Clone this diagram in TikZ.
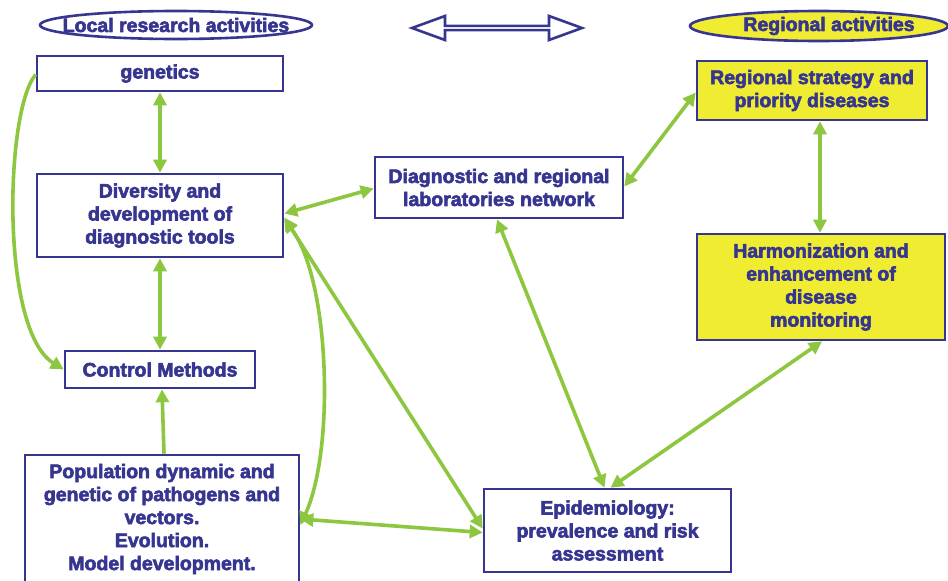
\documentclass[tikz,border=0pt]{standalone}
\usepackage{fontspec}
\setmainfont{Liberation Sans}[BoldFeatures={FakeBold=3}]
\usetikzlibrary{arrows.meta,shapes.geometric,shapes.arrows}
\definecolor{boxblue}{RGB}{54,54,145}
\definecolor{linkgreen}{RGB}{141,198,63}
\definecolor{boxyellow}{RGB}{240,236,50}
\tikzset{
    bluebox/.style={draw=boxblue,line width=2.6pt,fill=white,text=boxblue,
        font=\fontsize{19.5}{23}\selectfont\bfseries,align=center,inner sep=0pt},
    yellowbox/.style={bluebox,fill=boxyellow},
    titleoval/.style={ellipse,draw=boxblue,line width=2.6pt,text=boxblue,
        font=\fontsize{19.5}{23}\selectfont\bfseries,inner sep=0pt},
    link/.style={linkgreen,line width=3.6pt,{Triangle[length=13pt,width=13pt]}-{Triangle[length=13pt,width=13pt]}},
    linkto/.style={linkgreen,line width=3.6pt,-{Triangle[length=13pt,width=13pt]}}
}
\begin{document}
\begin{tikzpicture}[x=1pt,y=-1pt]
    \useasboundingbox[fill=white] (0,0) rectangle (948,581);

    % headings
    \node[titleoval,minimum width=272pt,minimum height=28pt] (localt) at (176,25) {\makebox[0pt]{Local research activities}};
    \node[titleoval,fill=boxyellow,minimum width=258pt,minimum height=30pt] (regiont) at (819,26) {\makebox[0pt]{\hspace*{20pt}Regional activities}};
    \node[double arrow,draw=boxblue,line width=2.6pt,fill=white,inner sep=0pt,
          minimum height=170pt,minimum width=24pt,double arrow head extend=6pt,
          double arrow tip angle=40] (swap) at (497,28) {};

    % local side
    \node[bluebox,minimum width=246pt,minimum height=35pt] (gen) at (160,73.5) {genetics};
    \node[bluebox,minimum width=246pt,minimum height=83pt] (div) at (160,215.5) {Diversity and\\development of\\diagnostic tools};
    \node[bluebox,minimum width=190pt,minimum height=37pt] (ctrl) at (160,369.5) {Control Methods};
    \node[bluebox,minimum width=274pt,minimum height=128pt] (pop) at (162,519) {Population dynamic and\\genetic of pathogens and\\vectors.\\Evolution.\\Model development.};

    % regional side
    \node[bluebox,minimum width=248pt,minimum height=61pt] (lab) at (499,187.5) {Diagnostic and regional\\laboratories network};
    \node[yellowbox,minimum width=230pt,minimum height=59pt] (strat) at (812,90.5) {Regional strategy and\\priority diseases};
    \node[yellowbox,minimum width=248pt,minimum height=106pt] (harm) at (821,287) {Harmonization and\\enhancement of\\disease\\monitoring};
    \node[bluebox,minimum width=247pt,minimum height=83pt] (epi) at (607.5,530.5) {Epidemiology:\\prevalence and risk\\assessment};

    % connectors
    \draw[link] (gen) -- (div);
    \draw[link] (div) -- (ctrl);
    \draw[linkto] ([xshift=2pt]pop.north) -- ([xshift=2pt]ctrl.south);
    \draw[linkto] ([yshift=-1pt]gen.west) .. controls (5,110) and (0,330) .. (ctrl.west);
    \draw[link] ([yshift=2pt]div.east) -- ([yshift=-1pt]lab.west);
    \draw[link] ([yshift=1pt]lab.east) -- ([yshift=-2pt]strat.west);
    \draw[link] ([xshift=8pt]strat.south) -- ([xshift=-1pt]harm.north);
    \draw[link] ([xshift=1pt]harm.south) -- ([xshift=3pt]epi.north);
    \draw[link] ([xshift=-2pt]lab.south) -- ([xshift=-3pt]epi.north);
    \draw[link] ([yshift=-2pt]div.east) -- ([yshift=2pt]epi.west);
    \draw[link] ([yshift=-4pt]div.east) .. controls (330,280) and (335,450) .. ([yshift=-6pt]pop.east);
    \draw[link] (pop.east) -- ([yshift=-2pt]epi.west);
\end{tikzpicture}
\end{document}
